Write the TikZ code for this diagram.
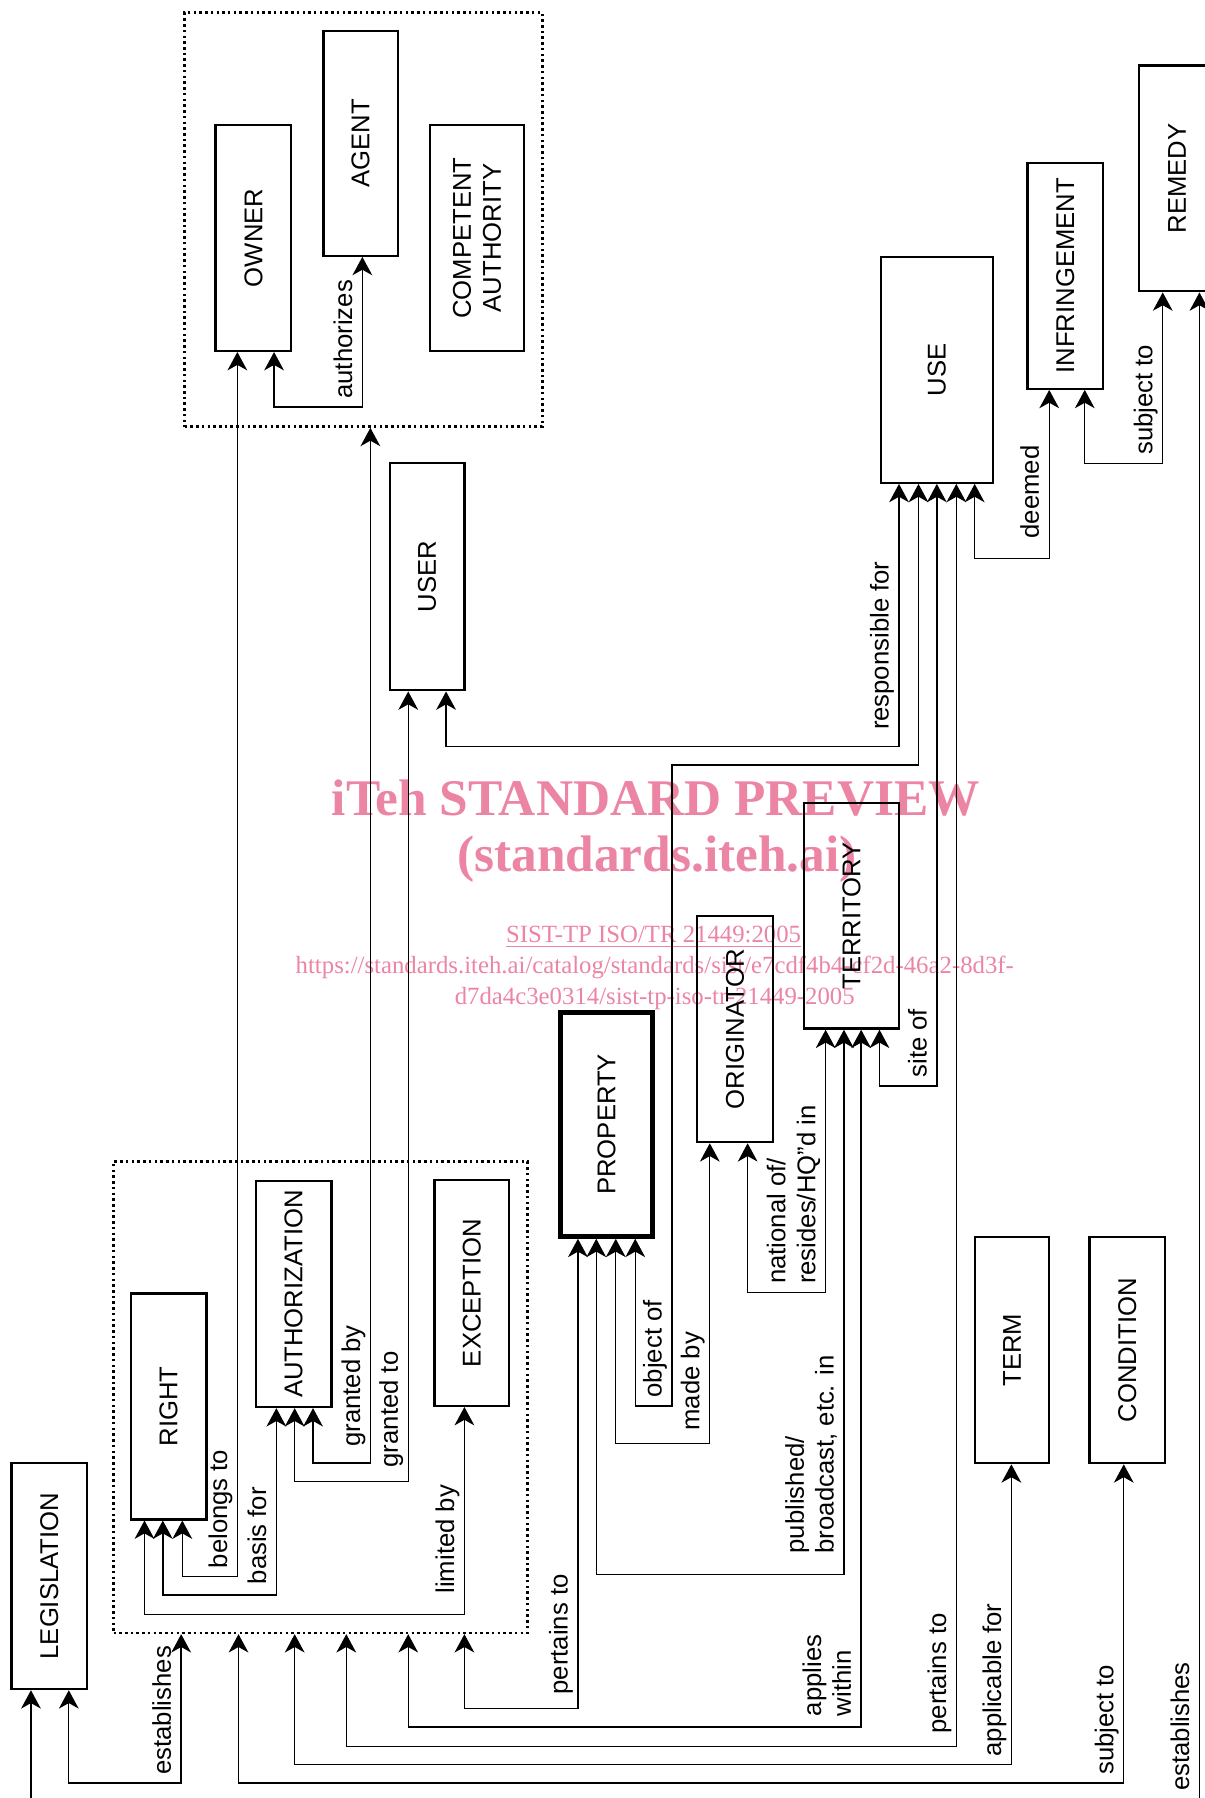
\documentclass[tikz,border=0pt]{standalone}
\usepackage{fontspec}
\setmainfont{Liberation Sans}
\newfontfamily\wmfont{Liberation Serif}
\usetikzlibrary{arrows.meta,fit}
\definecolor{wmpink}{RGB}{236,132,164}
\newcommand\dfont{\fontsize{11.2}{13}\selectfont}
\begin{document}
\begin{tikzpicture}[x=0.5pt,y=-0.5pt,
  box/.style={draw, line width=1pt, inner sep=0pt},
  grp/.style={draw, line width=1.1pt, dash pattern=on 1.1pt off 1.4pt, inner sep=0pt},
  btxt/.style={rotate=90, font=\dfont, align=center, inner sep=0pt},
  tip/.tip={Stealth[length=8pt,width=8.6pt,inset=2.4pt]},
  rel/.style={line width=0.6pt, tip-tip},
  rlab/.style={rotate=90, anchor=south west, font=\dfont, align=left, inner sep=0pt, text depth=2.3pt},
  wm/.style={text=wmpink, inner sep=0pt, anchor=base}]
\useasboundingbox (0,0) rectangle (1050,1568);

% watermark
\node[wm, font=\wmfont\bfseries\fontsize{22.4}{26}\selectfont] (wm1) at (572,711) {iTeh STANDARD PREVIEW};
\node[wm, font=\wmfont\bfseries\fontsize{22.4}{26}\selectfont] (wm2) at (573,760) {(standards.iteh.ai)};
\node[wm, font=\wmfont\fontsize{10.8}{13}\selectfont] (wm3) at (570,822) {\underline{SIST-TP ISO/TR 21449:2005}};
\node[wm, font=\wmfont\fontsize{10.8}{13}\selectfont] (wm4) at (571,849) {https://standards.iteh.ai/catalog/standards/sist/e7cdf4b4-cf2d-46a2-8d3f-};
\node[wm, font=\wmfont\fontsize{10.8}{13}\selectfont] (wm5) at (571,876) {d7da4c3e0314/sist-tp-iso-tr-21449-2005};

% boxes
\node[box, fit={(188,109)(254,306)}, label={[btxt]center:OWNER}] (owner) {};
\node[box, fit={(282,27)(347,223)}, label={[btxt]center:AGENT}] (agent) {};
\node[box, fit={(375,109)(457,306)}, label={[btxt]center:{COMPETENT\\AUTHORITY}}] (comp) {};
\node[grp, fit={(161,11)(473,372)}] (topgrp) {};
\node[box, fit={(340,404)(405,602)}, label={[btxt]center:USER}] (user) {};
\node[box, fit={(768,224)(866,421)}, label={[btxt]center:USE}] (use) {};
\node[box, fit={(896,142)(962,339)}, label={[btxt]center:INFRINGEMENT}] (infr) {};
\node[box, fit={(993,57)(1060,254)}, label={[btxt]center:REMEDY}] (remedy) {};
\node[box, fit={(701,700)(784,897)}, label={[btxt]center:TERRITORY}] (terr) {};
\node[box, fit={(608,799)(674,996)}, label={[btxt]center:ORIGINATOR}] (orig) {};
\node[box, line width=2.3pt, fit={(489,883)(569,1078)}, label={[btxt]center:PROPERTY}] (prop) {};
\node[box, fit={(850,1079)(915,1276)}, label={[btxt]center:TERM}] (term) {};
\node[box, fit={(950,1079)(1016,1276)}, label={[btxt]center:CONDITION}] (cond) {};
\node[grp, fit={(99,1013)(460,1424)}] (lowgrp) {};
\node[box, fit={(114,1128)(180,1325)}, label={[btxt]center:RIGHT}] (right) {};
\node[box, fit={(223,1030)(289,1227)}, label={[btxt]center:AUTHORIZATION}] (authz) {};
\node[box, fit={(379,1029)(444,1226)}, label={[btxt]center:EXCEPTION}] (exc) {};
\node[box, fit={(10,1276)(76,1473)}, label={[btxt]center:LEGISLATION}] (legis) {};

% connectors
\draw[rel] (239,0 |- owner.south) -- (239,355) -- (316,355) -- (316,0 |- agent.south);
\draw[rel] (159,0 |- right.south) -- (159,1375) -- (207,1375) -- (207,0 |- owner.south);
\draw[rel] (142,0 |- right.south) -- (142,1391) -- (241,1391) -- (241,0 |- authz.south);
\draw[rel] (126,0 |- right.south) -- (126,1408) -- (405,1408) -- (405,0 |- exc.south);
\draw[rel] (273,0 |- authz.south) -- (273,1276) -- (323,1276) -- (323,0 |- topgrp.south);
\draw[rel] (257,0 |- authz.south) -- (257,1292) -- (356,1292) -- (356,0 |- user.south);
\draw[rel] (389,0 |- user.south) -- (389,651) -- (784,651) -- (784,0 |- use.south);
\draw[rel] (554,0 |- prop.south) -- (554,1226) -- (586,1226) -- (586,667) -- (801,667) -- (801,0 |- use.south);
\draw[rel] (537,0 |- prop.south) -- (537,1259) -- (619,1259) -- (619,0 |- orig.south);
\draw[rel] (520,0 |- prop.south) -- (520,1373) -- (736,1373) -- (736,0 |- terr.south);
\draw[rel] (504,0 |- prop.south) -- (504,1490) -- (405,1490) -- (405,0 |- lowgrp.south);
\draw[rel] (652,0 |- orig.south) -- (652,1127) -- (720,1127) -- (720,0 |- terr.south);
\draw[rel] (767,0 |- terr.south) -- (767,947) -- (817,947) -- (817,0 |- use.south);
\draw[rel] (751,0 |- terr.south) -- (751,1506) -- (356,1506) -- (356,0 |- lowgrp.south);
\draw[rel] (834,0 |- use.south) -- (834,1523) -- (302,1523) -- (302,0 |- lowgrp.south);
\draw[rel] (882,0 |- term.south) -- (882,1539) -- (257,1539) -- (257,0 |- lowgrp.south);
\draw[rel] (980,0 |- cond.south) -- (980,1555) -- (208,1555) -- (208,0 |- lowgrp.south);
\draw[rel] (60,0 |- legis.south) -- (60,1555) -- (158,1555) -- (158,0 |- lowgrp.south);
\draw[rel] (850,0 |- use.south) -- (850,487) -- (915,487) -- (915,0 |- infr.south);
\draw[rel] (946,0 |- infr.south) -- (946,404) -- (1014,404) -- (1014,0 |- remedy.south);
\draw[rel] (27,0 |- legis.south) -- (27,1610) -- (1046,1610) -- (1046,0 |- remedy.south);

% connector labels
\node[rlab] (l1) at (312,348) {authorizes};
\node[rlab] (l2) at (203,1368) {belongs to};
\node[rlab] (l3) at (237,1382) {basis for};
\node[rlab] (l4) at (401,1390) {limited by};
\node[rlab] (l5) at (319,1262) {granted by};
\node[rlab] (l6) at (352,1280) {granted to};
\node[rlab] (l7) at (780,637) {responsible for};
\node[rlab] (l8) at (582,1219) {object of};
\node[rlab] (l9) at (615,1248) {made by};
\node[rlab] (l10) at (732,1355) {published/\\broadcast, etc. in};
\node[rlab] (l11) at (500,1478) {pertains to};
\node[rlab] (l12) at (716,1120) {national of/\\resides/HQ”d in};
\node[rlab] (l13) at (813,940) {site of};
\node[rlab] (l14) at (747,1497) {applies\\within};
\node[rlab] (l15) at (830,1512) {pertains to};
\node[rlab] (l16) at (878,1532) {applicable for};
\node[rlab] (l17) at (976,1548) {subject to};
\node[rlab] (l18) at (154,1548) {establishes};
\node[rlab] (l19) at (911,470) {deemed};
\node[rlab] (l20) at (1010,397) {subject to};
\node[rlab] (l21) at (1042,1562) {establishes};
\end{tikzpicture}
\end{document}
